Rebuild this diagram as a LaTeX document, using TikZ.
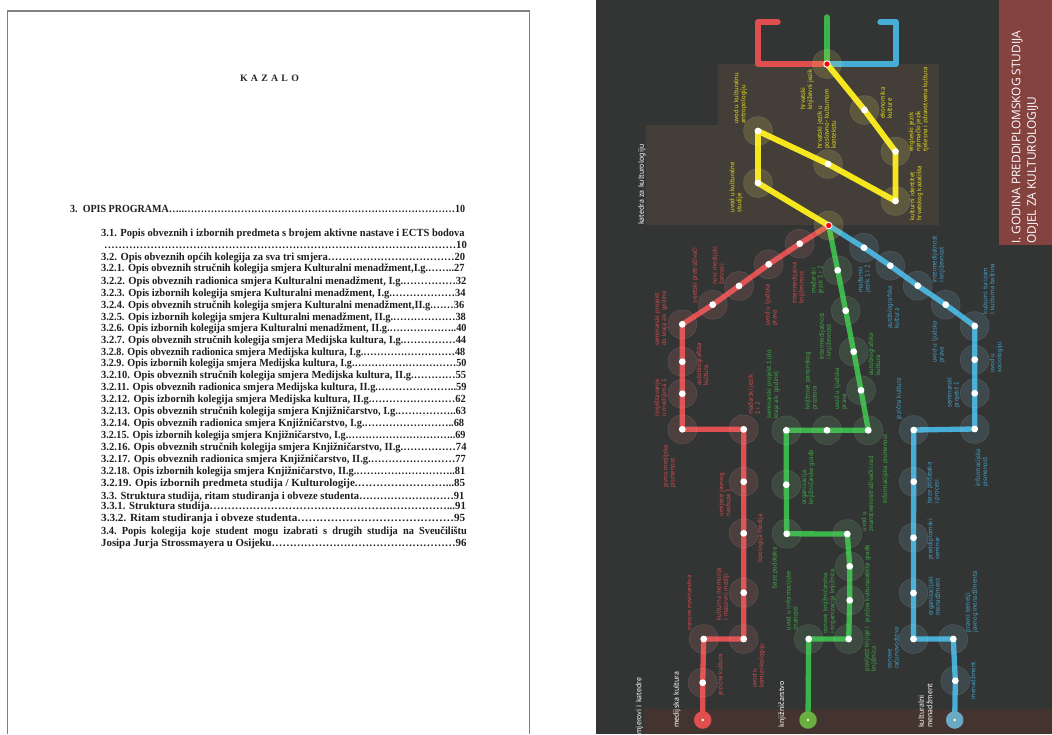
\documentclass[tikz,border=0pt]{standalone}
\usepackage{fontspec}
\usepackage{graphicx}
\setmainfont{Liberation Serif}
\newfontfamily\labfont{PT Sans}
\newfontfamily\headfont{Open Sans}
\definecolor{bgdark}{HTML}{333434}
\definecolor{panel}{HTML}{433F38}
\definecolor{bandc}{HTML}{43342F}
\definecolor{boxred}{HTML}{85433F}
\definecolor{redl}{HTML}{DF4F50}
\definecolor{greenl}{HTML}{3BB54A}
\definecolor{bluel}{HTML}{45ADD6}
\definecolor{yell}{HTML}{F6E71D}
\definecolor{redt}{HTML}{D64C4E}
\definecolor{greent}{HTML}{3DAD48}
\definecolor{bluet}{HTML}{41A4CC}
\definecolor{yelt}{HTML}{EBDF1F}
\definecolor{termg}{HTML}{6AAF3F}
\definecolor{termb}{HTML}{6CA9C5}
\tikzset{
  route/.style={line width=5.3pt,line join=round,line cap=round},
  halo/.style={circle,minimum size=29pt,inner sep=0pt,fill=#1,fill opacity=.15,draw=white,draw opacity=.12,line width=.5pt},
  stop/.style={circle,minimum size=6.8pt,inner sep=0pt,fill=white},
  hub/.style={circle,minimum size=6.5pt,inner sep=0pt,fill=red,draw=white,line width=.9pt},
  term/.style={circle,minimum size=17.5pt,inner sep=0pt,fill=#1},
  termdot/.style={circle,minimum size=2.8pt,inner sep=0pt,fill=white!85!yellow},
  lab/.style={rotate=90,anchor=west,inner sep=0pt,align=left,font=\labfont\fontsize{6.7}{7}\selectfont,text=#1},
  whitelab/.style={rotate=90,anchor=west,inner sep=0pt,align=left,font=\labfont\fontsize{7.9}{8.4}\selectfont,text=white},
  toc/.style={anchor=base west,inner sep=0pt,font=\bfseries\fontsize{10.9}{12}\selectfont,text=black!88},
}
\newcommand{\tl}[5]{\node[toc] (#1) at (#2,#3+3.4) {\resizebox{\dimexpr#4pt-#2pt\relax}{\height}{#5}};}
\begin{document}
\begin{tikzpicture}[x=1pt,y=-1pt]
\useasboundingbox (0,0) rectangle (1052,734);
\fill[white] (0,0) rectangle (596,734);
\draw[black!50,line width=1.3pt] (7.7,734) -- (7.7,11) -- (529.7,11) -- (529.7,734);
% dark side
\fill[bgdark] (596,0) rectangle (1052,734);
\fill[panel] (717.7,64) -- (939,64) -- (939,225) -- (645.7,225) -- (645.7,125) -- (717.7,125) -- cycle;
\fill[bandc] (644,708.5) rectangle (1052,734);
\fill[boxred] (999,0) rectangle (1052,245);
% left page text
\node[anchor=base,inner sep=0pt,font=\bfseries\fontsize{9.8}{12}\selectfont,text=black!85] (title) at (269.5,81.5) {K\,\,A\,\,Z\,\,A\,\,L\,\,O};
\tl{t0}{70}{209}{465}{3.\ \ OPIS PROGRAMA…..………………………………………………………………………10}
\tl{t1}{101}{233}{464.5}{3.1. Popis obveznih i izbornih predmeta s brojem aktivne nastave i ECTS bodova}
\tl{t2}{104}{245}{466.7}{………………………………………………………………………………………10}
\tl{t3}{101}{256.7}{465}{3.2. Opis obveznih općih kolegija za sva tri smjera………………………………20}
\tl{t4}{101}{268.3}{464.3}{3.2.1. Opis obveznih stručnih kolegija smjera Kulturalni menadžment,I.g.……..27}
\tl{t5}{101}{281}{466.3}{3.2.2. Opis obveznih radionica smjera Kulturalni menadžment, I.g.……………32}
\tl{t6}{101}{293}{465.3}{3.2.3. Opis izbornih kolegija smjera Kulturalni menadžment, I.g.………………34}
\tl{t7}{101}{304.7}{464}{3.2.4. Opis obveznih stručnih kolegija smjera Kulturalni menadžment,II.g.……36}
\tl{t8}{101}{316.7}{465.7}{3.2.5. Opis izbornih kolegija smjera Kulturalni menadžment, II.g.………………38}
\tl{t9}{101}{328.3}{466.3}{3.2.6. Opis izbornih kolegija smjera Kulturalni menadžment, II.g.………………..40}
\tl{t10}{101}{340.3}{466}{3.2.7. Opis obveznih stručnih kolegija smjera Medijska kultura, I.g.……………44}
\tl{t11}{101}{352}{465}{3.2.8. Opis obveznih radionica smjera Medijska kultura, I.g.………………………48}
\tl{t12}{101}{363.3}{466.3}{3.2.9. Opis izbornih kolegija smjera Medijska kultura, I.g.…………………………50}
\tl{t13}{101}{375}{466}{3.2.10. Opis obveznih stručnih kolegija smjera Medijska kultura, II.g.…………55}
\tl{t14}{101}{386.7}{466.3}{3.2.11. Opis obveznih radionica smjera Medijska kultura, II.g.…………………..59}
\tl{t15}{101}{399.3}{465.7}{3.2.12. Opis izbornih kolegija smjera Medijska kultura, II.g.……………………62}
\tl{t16}{101}{411}{466}{3.2.13. Opis obveznih stručnih kolegija smjera Knjižničarstvo, I.g.……………..63}
\tl{t17}{101}{422.7}{464}{3.2.14. Opis obveznih radionica smjera Knjižničarstvo, I.g.……………………..68}
\tl{t18}{101}{435}{465.3}{3.2.15. Opis izbornih kolegija smjera Knjižničarstvo, I.g.…………………………..69}
\tl{t19}{101}{447.3}{466.3}{3.2.16. Opis obveznih stručnih kolegija smjera Knjižničarstvo, II.g.……………74}
\tl{t20}{101}{459.3}{465.7}{3.2.17. Opis obveznih radionica smjera Knjižničarstvo, II.g.……………………77}
\tl{t21}{101}{471.3}{465}{3.2.18. Opis izbornih kolegija smjera Knjižničarstvo, II.g.………………………..81}
\tl{t22}{101}{483.3}{465}{3.2.19. Opis izbornih predmeta studija / Kulturologije.……………………...85}
\tl{t23}{101}{496}{464.3}{3.3. Struktura studija, ritam studiranja i obveze studenta………………………91}
\tl{t24}{101}{506}{465.7}{3.3.1. Struktura studija…………………………………………………………...91}
\tl{t25}{101}{517.7}{465}{3.3.2. Ritam studiranja i obveze studenta……………………………………95}
\tl{t26}{101}{530.7}{466.7}{3.4.\ \ Popis\ \ kolegija\ \ koje\ \ student\ \ mogu\ \ izabrati\ \ s\ \ drugih\ \ studija\ \ na\ \ Sveučilištu}
\tl{t27}{101}{542.7}{466.3}{Josipa Jurja Strossmayera u Osijeku……………………………………………96}
% coordinates
\coordinate (T) at (827,64);
\coordinate (J) at (828.7,225.5);
\coordinate (ra) at (778,22); \coordinate (rb) at (758,22); \coordinate (rc) at (758,64);
\coordinate (ga) at (827,17);
\coordinate (ba) at (880,22); \coordinate (bb) at (896,22); \coordinate (bc) at (896,64);
\foreach \n/\p in {y1/{864.5,110},y2/{895.5,151.5},y3/{895.5,201},y4/{828,164},y5/{758,131},y6/{758,183},
 r1/{799.7,243.7},r2/{768.7,264.3},r3/{739,286},r4/{712.7,304.7},r5/{682.3,324.3},r6/{682.3,361.7},r7/{682.3,393.7},r8/{682.3,429.3},r9/{743.7,429.3},r10/{743.7,481.7},r11/{743.7,533.3},r12/{743.7,592.7},r13/{743.7,639},r14/{703.7,639},r15/{702.7,682.7},
 g1/{837.7,270.3},g2/{845.7,310.7},g3/{853.7,351.7},g4/{861,390.3},g5/{868.3,430.3},g6/{827,430.3},g7/{786.3,430.3},g8/{786.3,484.7},g9/{786.7,533.8},g10/{847.3,534},g11/{849.7,566.3},g12/{849.7,600.3},g13/{848.7,639},g14/{808.7,639},
 b1/{864,247.7},b2/{890.3,265.7},b3/{917.7,285.7},b4/{945.7,304.7},b5/{974.7,326},b6/{974.7,359.7},b7/{974.7,393.3},b8/{974.7,429},b9/{913.7,430},b10/{913.7,481.7},b11/{913.5,537.7},b12/{913.5,593},b13/{913.5,639},b14/{953.3,639},b15/{955.3,680.7},
 rt/{702.7,720},gt/{808,720},bt/{954.7,720}}
 {\coordinate (\n) at (\p);}
% routes
\draw[route,redl] (ra) -- (rb) -- (rc) -- (T);
\draw[route,bluel] (ba) -- (bb) -- (bc) -- (T);
\draw[route,greenl] (ga) -- (T);
\draw[route,redl] (J) -- (r1) -- (r2) -- (r3) -- (r4) -- (r5) -- (r6) -- (r7) -- (r8) -- (r9) -- (r10) -- (r11) -- (r12) -- (r13) -- (r14) -- (r15) -- (rt);
\draw[route,greenl] (J) -- (g1) -- (g2) -- (g3) -- (g4) -- (g5) -- (g6) -- (g7) -- (g8) -- (g9) -- (g10) -- (g11) -- (g12) -- (g13) -- (g14) -- (gt);
\draw[route,bluel] (J) -- (b1) -- (b2) -- (b3) -- (b4) -- (b5) -- (b6) -- (b7) -- (b8) -- (b9) -- (b10) -- (b11) -- (b12) -- (b13) -- (b14) -- (b15) -- (bt);
\draw[route,yell,line width=5.8pt] (T) -- (y1) -- (y2) -- (y3) -- (y4) -- (y5) -- (y6) -- (J);
% halos
\foreach \n in {y1,y2,y3,y4,y5,y6} {\node[halo=yell!70!white] (h\n) at (\n) {};}
\node[halo=yell!70!white] (hT) at (T) {};
\node[halo=yell!70!white] (hJ) at (J) {};
\foreach \n in {r1,r2,r3,r4,r5,r6,r7,r8,r9,r10,r11,r12,r13,r14,r15} {\node[halo=redl!70!white] (h\n) at (\n) {};}
\foreach \n in {g1,g2,g3,g4,g5,g6,g7,g8,g9,g10,g11,g12,g13,g14} {\node[halo=greenl!70!white] (h\n) at (\n) {};}
\foreach \n in {b1,b2,b3,b4,b5,b6,b7,b8,b9,b10,b11,b12,b13,b14,b15} {\node[halo=bluel!70!white] (h\n) at (\n) {};}
% stops
\foreach \n in {y1,y2,y3,y4,y5,y6,r1,r2,r3,r4,r5,r6,r7,r8,r9,r10,r11,r12,r13,r14,r15,g1,g2,g3,g4,g5,g6,g7,g8,g9,g10,g11,g12,g13,g14,b1,b2,b3,b4,b5,b6,b7,b8,b9,b10,b11,b12,b13,b14,b15} {\node[stop] (s\n) at (\n) {};}
\node[hub] (sT) at (T) {};
\node[hub] (sJ) at (J) {};
% terminals
\node[term=redl] (trt) at (rt) {}; \node[termdot] (drt) at (rt) {};
\node[term=termg] (tgt) at (gt) {}; \node[termdot] (dgt) at (gt) {};
\node[term=termb] (tbt) at (bt) {}; \node[termdot] (dbt) at (bt) {};
% head box
\node[rotate=90,anchor=west,inner sep=0pt,align=left,font=\headfont\fontsize{11.9}{15.5}\selectfont,text=white] (head) at (1025,244) {I. GODINA PREDDIPLOMSKOG STUDIJA\\ODJEL ZA KULTUROLOGIJU};
% white labels
\node[whitelab] (w1) at (642,225) {katedra za kulturologiju};
\node[whitelab] (w2) at (639.5,738) {smjerovi i katedre};
\node[whitelab] (w3) at (677,728) {medijska kultura};
\node[whitelab] (w4) at (782,727.7) {knjižničarstvo};
\node[whitelab] (w5) at (925.3,728) {kulturalni\\menadžment};
% yellow labels
\node[lab=yelt] (ly1) at (807,110) {hrvatski\\književni jezik};
\node[lab=yelt] (ly2) at (826.5,149) {hrvatski jezik u\\poslovno- kulturnom\\kontekstu};
\node[lab=yelt] (ly3) at (740.3,124) {uvod u kulturalnu\\antropologiju};
\node[lab=yelt] (ly4) at (736.3,212.7) {uvod u kulturalne\\studije};
\node[lab=yelt] (ly5) at (886,119) {ekonomika\\kulture};
\node[lab=yelt] (ly6) at (918.7,151.7) {engleski jezik\\njemački jezik\\tjelesna i zdravstvena kultura};
\node[lab=yelt] (ly7) at (916.2,221) {kulturni identitet\\hrvatskog kazališta};
% red labels
\node[lab=redt] (lr1) at (798.5,304) {intermedijalna\\književnost};
\node[lab=redt] (lr2) at (771.3,326) {uvod u ljudska\\prava};
\node[lab=redt] (lr3) at (718,285) {novi medijski\\žanrovi};
\node[lab=redt] (lr4) at (695,304) {svjetski pretraživači};
\node[lab=redt] (lr5) at (661,346) {seminarski projekt\\do kraja ak. godine};
\node[lab=redt] (lr6) at (702.3,385.7) {autobiografska\\kultura};
\node[lab=redt] (lr7) at (661,416.7) {izvještavanje\\u medijima 1};
\node[lab=redt] (lr8) at (754,415) {mađarski jezik\\1 i 2};
\node[lab=redt] (lr9) at (669.5,488) {javno medijska\\pismenost};
\node[lab=redt] (lr10) at (725,516.7) {umijeće javnog\\nastupa 1};
\node[lab=redt] (lr11) at (760.5,563) {tipologija medija};
\node[lab=redt] (lr12) at (722.8,620.7) {kulturna memorija\\i masovni mediji};
\node[lab=redt] (lr13) at (689,630.7) {osnove novinarstva};
\node[lab=redt] (lr14) at (720.5,696) {jezična kultura};
\node[lab=redt] (lr15) at (758.5,688) {uvod u\\komunikologiju};
% green labels
\node[lab=greent] (lg1) at (817.5,294) {mađarski\\jezik 1 i 2};
\node[lab=greent] (lg2) at (825.7,360) {intermedijalnost\\i književnost};
\node[lab=greent] (lg3) at (840.8,410) {uvod u ljudska\\prava};
\node[lab=greent] (lg4) at (874.2,375.7) {autobiografska\\kultura};
\node[lab=greent] (lg5) at (773,419) {seminarski projekt 1 (do\\kraja ak. godine)};
\node[lab=greent] (lg6) at (811.3,410) {knjižnice panonskog\\prostora};
\node[lab=greent] (lg7) at (808,505) {organizacija\\knjižničarske građe};
\node[lab=greent] (lg8) at (885.5,504) {informacijska pismenost};
\node[lab=greent] (lg9) at (867.3,531.7) {uvod u\\znanstvenoistraživački rad};
\node[lab=greent] (lg10) at (775,589) {baze podataka};
\node[lab=greent] (lg11) at (791.7,630.7) {uvod u informacijske\\znanosti};
\node[lab=greent] (lg12) at (829.2,634) {osnove knjižničarstva\\i organizacija knjižnica};
\node[lab=greent] (lg13) at (870.8,671.7) {povijest knjige i\\knjižnica};
\node[lab=greent] (lg14) at (867.5,623) {jezična kultura};
\node[lab=greent] (lg15) at (867.5,581.7) {zaštita građe};
% blue labels
\node[lab=bluet] (lb1) at (864.5,292.7) {mađarski\\jezik 1 i 2};
\node[lab=bluet] (lb2) at (893,329) {autobiografska\\kultura};
\node[lab=bluet] (lb3) at (938.5,283) {intermedijalnost\\i književnost};
\node[lab=bluet] (lb4) at (938.5,363) {uvod u ljudska\\prava};
\node[lab=bluet] (lb5) at (988.5,314.3) {kulturni turizam\\i kulturna baština};
\node[lab=bluet] (lb6) at (996.3,373) {uvod u\\sociologiju};
\node[lab=bluet] (lb7) at (953.5,408) {seminarski\\projekt 1};
\node[lab=bluet] (lb8) at (899,420) {jezična kultura};
\node[lab=bluet] (lb9) at (982,487) {informacijska\\pismenost};
\node[lab=bluet] (lb10) at (933.5,504) {baze podataka\\i procesi};
\node[lab=bluet] (lb11) at (933.5,560) {preddiplomski\\seminar};
\node[lab=bluet] (lb12) at (934,616) {organizacijski\\menadžment};
\node[lab=bluet] (lb13) at (893.5,669) {osnove\\računovodstva};
\node[lab=bluet] (lb14) at (971.8,632.7) {pravni temelji\\javnog menadžmenta};
\node[lab=bluet] (lb15) at (973,699.3) {menadžment};
\end{tikzpicture}
\end{document}
